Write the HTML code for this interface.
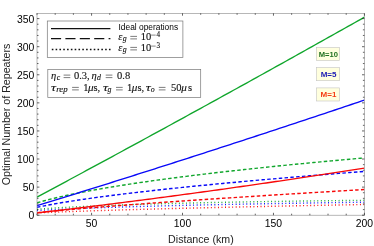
<!DOCTYPE html>
<html><head><meta charset="utf-8"><style>
html,body{margin:0;padding:0;background:#fff;}
svg{display:block;will-change:transform;opacity:0.999}
.t{font-family:"Liberation Sans",sans-serif;font-size:10.4px;fill:#000}
.a{font-family:"Liberation Sans",sans-serif;font-size:11px;fill:#222}
.m{font-family:"Liberation Serif",serif;font-size:10.5px;fill:#111;stroke:#111;stroke-width:0.12px}
.i{font-style:italic}
.l{font-family:"Liberation Sans",sans-serif;font-size:8.6px;fill:#000}
.b{font-family:"Liberation Sans",sans-serif;font-size:8px;font-weight:bold}
</style></head><body>
<svg width="374" height="246" viewBox="0 0 374 246">
<rect width="374" height="246" fill="#fff"/>
<clipPath id="c"><rect x="37.0" y="13.3" width="327.4" height="201.89999999999998"/></clipPath>
<g clip-path="url(#c)">
<polyline points="37.00,213.00 40.64,212.82 44.28,212.65 47.91,212.49 51.55,212.33 55.19,212.18 58.83,212.03 62.46,211.88 66.10,211.74 69.74,211.61 73.38,211.47 77.02,211.34 80.65,211.21 84.29,211.09 87.93,210.96 91.57,210.84 95.20,210.72 98.84,210.61 102.48,210.49 106.12,210.38 109.76,210.27 113.39,210.16 117.03,210.05 120.67,209.94 124.31,209.84 127.94,209.73 131.58,209.63 135.22,209.53 138.86,209.43 142.50,209.33 146.13,209.23 149.77,209.13 153.41,209.04 157.05,208.94 160.68,208.85 164.32,208.75 167.96,208.66 171.60,208.57 175.24,208.48 178.87,208.39 182.51,208.30 186.15,208.21 189.79,208.12 193.42,208.04 197.06,207.95 200.70,207.86 204.34,207.78 207.98,207.70 211.61,207.61 215.25,207.53 218.89,207.45 222.53,207.36 226.16,207.28 229.80,207.20 233.44,207.12 237.08,207.04 240.72,206.96 244.35,206.88 247.99,206.80 251.63,206.73 255.27,206.65 258.90,206.57 262.54,206.49 266.18,206.42 269.82,206.34 273.46,206.27 277.09,206.19 280.73,206.12 284.37,206.04 288.01,205.97 291.64,205.90 295.28,205.82 298.92,205.75 302.56,205.68 306.20,205.61 309.83,205.54 313.47,205.46 317.11,205.39 320.75,205.32 324.38,205.25 328.02,205.18 331.66,205.11 335.30,205.04 338.94,204.98 342.57,204.91 346.21,204.84 349.85,204.77 353.49,204.70 357.12,204.63 360.76,204.57 364.40,204.50" stroke="#f80808" stroke-width="1.4" fill="none" stroke-dasharray="0.95 2.6"/>
<polyline points="37.00,210.60 40.64,210.37 44.28,210.16 47.91,209.96 51.55,209.76 55.19,209.58 58.83,209.40 62.46,209.22 66.10,209.06 69.74,208.90 73.38,208.74 77.02,208.59 80.65,208.44 84.29,208.30 87.93,208.16 91.57,208.02 95.20,207.89 98.84,207.76 102.48,207.64 106.12,207.51 109.76,207.39 113.39,207.27 117.03,207.16 120.67,207.05 124.31,206.93 127.94,206.83 131.58,206.72 135.22,206.61 138.86,206.51 142.50,206.41 146.13,206.31 149.77,206.21 153.41,206.12 157.05,206.02 160.68,205.93 164.32,205.84 167.96,205.75 171.60,205.66 175.24,205.57 178.87,205.49 182.51,205.40 186.15,205.32 189.79,205.23 193.42,205.15 197.06,205.07 200.70,204.99 204.34,204.91 207.98,204.84 211.61,204.76 215.25,204.68 218.89,204.61 222.53,204.54 226.16,204.46 229.80,204.39 233.44,204.32 237.08,204.25 240.72,204.18 244.35,204.11 247.99,204.04 251.63,203.98 255.27,203.91 258.90,203.85 262.54,203.78 266.18,203.72 269.82,203.65 273.46,203.59 277.09,203.53 280.73,203.47 284.37,203.40 288.01,203.34 291.64,203.28 295.28,203.23 298.92,203.17 302.56,203.11 306.20,203.05 309.83,202.99 313.47,202.94 317.11,202.88 320.75,202.83 324.38,202.77 328.02,202.72 331.66,202.66 335.30,202.61 338.94,202.56 342.57,202.51 346.21,202.45 349.85,202.40 353.49,202.35 357.12,202.30 360.76,202.25 364.40,202.20" stroke="#0808f8" stroke-width="1.4" fill="none" stroke-dasharray="0.95 2.6"/>
<polyline points="37.00,209.30 40.64,209.01 44.28,208.74 47.91,208.48 51.55,208.23 55.19,208.00 58.83,207.78 62.46,207.56 66.10,207.36 69.74,207.16 73.38,206.97 77.02,206.79 80.65,206.61 84.29,206.44 87.93,206.28 91.57,206.11 95.20,205.96 98.84,205.81 102.48,205.66 106.12,205.52 109.76,205.38 113.39,205.24 117.03,205.11 120.67,204.98 124.31,204.86 127.94,204.74 131.58,204.62 135.22,204.50 138.86,204.39 142.50,204.28 146.13,204.17 149.77,204.06 153.41,203.96 157.05,203.86 160.68,203.76 164.32,203.66 167.96,203.56 171.60,203.47 175.24,203.38 178.87,203.29 182.51,203.20 186.15,203.11 189.79,203.03 193.42,202.95 197.06,202.86 200.70,202.78 204.34,202.71 207.98,202.63 211.61,202.55 215.25,202.48 218.89,202.40 222.53,202.33 226.16,202.26 229.80,202.19 233.44,202.13 237.08,202.06 240.72,201.99 244.35,201.93 247.99,201.86 251.63,201.80 255.27,201.74 258.90,201.68 262.54,201.62 266.18,201.56 269.82,201.51 273.46,201.45 277.09,201.39 280.73,201.34 284.37,201.29 288.01,201.23 291.64,201.18 295.28,201.13 298.92,201.08 302.56,201.03 306.20,200.98 309.83,200.93 313.47,200.89 317.11,200.84 320.75,200.79 324.38,200.75 328.02,200.70 331.66,200.66 335.30,200.62 338.94,200.58 342.57,200.53 346.21,200.49 349.85,200.45 353.49,200.41 357.12,200.38 360.76,200.34 364.40,200.30" stroke="#10a62c" stroke-width="1.4" fill="none" stroke-dasharray="0.95 2.6"/>
<polyline points="37.00,212.80 40.64,212.41 44.28,212.03 47.91,211.67 51.55,211.31 55.19,210.96 58.83,210.61 62.46,210.28 66.10,209.94 69.74,209.62 73.38,209.30 77.02,208.98 80.65,208.67 84.29,208.36 87.93,208.06 91.57,207.76 95.20,207.46 98.84,207.17 102.48,206.88 106.12,206.59 109.76,206.30 113.39,206.02 117.03,205.74 120.67,205.46 124.31,205.18 127.94,204.91 131.58,204.64 135.22,204.37 138.86,204.10 142.50,203.83 146.13,203.57 149.77,203.30 153.41,203.04 157.05,202.78 160.68,202.52 164.32,202.27 167.96,202.01 171.60,201.76 175.24,201.50 178.87,201.25 182.51,201.00 186.15,200.75 189.79,200.50 193.42,200.25 197.06,200.01 200.70,199.76 204.34,199.52 207.98,199.28 211.61,199.03 215.25,198.79 218.89,198.55 222.53,198.31 226.16,198.07 229.80,197.84 233.44,197.60 237.08,197.36 240.72,197.13 244.35,196.89 247.99,196.66 251.63,196.43 255.27,196.19 258.90,195.96 262.54,195.73 266.18,195.50 269.82,195.27 273.46,195.04 277.09,194.81 280.73,194.59 284.37,194.36 288.01,194.13 291.64,193.91 295.28,193.68 298.92,193.46 302.56,193.23 306.20,193.01 309.83,192.79 313.47,192.56 317.11,192.34 320.75,192.12 324.38,191.90 328.02,191.68 331.66,191.46 335.30,191.24 338.94,191.02 342.57,190.80 346.21,190.58 349.85,190.37 353.49,190.15 357.12,189.93 360.76,189.72 364.40,189.50" stroke="#f80808" stroke-width="1.4" fill="none" stroke-dasharray="3.5 2.3"/>
<polyline points="37.00,207.30 40.64,206.55 44.28,205.82 47.91,205.13 51.55,204.46 55.19,203.81 58.83,203.17 62.46,202.56 66.10,201.97 69.74,201.38 73.38,200.82 77.02,200.26 80.65,199.72 84.29,199.19 87.93,198.66 91.57,198.15 95.20,197.65 98.84,197.15 102.48,196.67 106.12,196.19 109.76,195.71 113.39,195.25 117.03,194.79 120.67,194.34 124.31,193.89 127.94,193.45 131.58,193.02 135.22,192.59 138.86,192.16 142.50,191.74 146.13,191.33 149.77,190.92 153.41,190.51 157.05,190.11 160.68,189.71 164.32,189.32 167.96,188.93 171.60,188.54 175.24,188.16 178.87,187.78 182.51,187.40 186.15,187.03 189.79,186.66 193.42,186.29 197.06,185.92 200.70,185.56 204.34,185.20 207.98,184.85 211.61,184.50 215.25,184.14 218.89,183.80 222.53,183.45 226.16,183.11 229.80,182.77 233.44,182.43 237.08,182.09 240.72,181.76 244.35,181.42 247.99,181.09 251.63,180.76 255.27,180.44 258.90,180.11 262.54,179.79 266.18,179.47 269.82,179.15 273.46,178.83 277.09,178.52 280.73,178.21 284.37,177.89 288.01,177.58 291.64,177.27 295.28,176.97 298.92,176.66 302.56,176.36 306.20,176.06 309.83,175.75 313.47,175.45 317.11,175.16 320.75,174.86 324.38,174.56 328.02,174.27 331.66,173.98 335.30,173.69 338.94,173.40 342.57,173.11 346.21,172.82 349.85,172.53 353.49,172.25 357.12,171.96 360.76,171.68 364.40,171.40" stroke="#0808f8" stroke-width="1.4" fill="none" stroke-dasharray="3.5 2.3"/>
<polyline points="37.00,202.80 40.64,201.76 44.28,200.76 47.91,199.81 51.55,198.89 55.19,198.01 58.83,197.15 62.46,196.33 66.10,195.52 69.74,194.75 73.38,193.99 77.02,193.25 80.65,192.53 84.29,191.83 87.93,191.14 91.57,190.47 95.20,189.81 98.84,189.16 102.48,188.53 106.12,187.91 109.76,187.29 113.39,186.69 117.03,186.10 120.67,185.52 124.31,184.95 127.94,184.39 131.58,183.84 135.22,183.29 138.86,182.75 142.50,182.22 146.13,181.70 149.77,181.18 153.41,180.67 157.05,180.17 160.68,179.67 164.32,179.18 167.96,178.69 171.60,178.21 175.24,177.73 178.87,177.26 182.51,176.80 186.15,176.34 189.79,175.89 193.42,175.43 197.06,174.99 200.70,174.55 204.34,174.11 207.98,173.68 211.61,173.25 215.25,172.82 218.89,172.40 222.53,171.98 226.16,171.57 229.80,171.16 233.44,170.75 237.08,170.35 240.72,169.95 244.35,169.55 247.99,169.16 251.63,168.77 255.27,168.38 258.90,167.99 262.54,167.61 266.18,167.23 269.82,166.86 273.46,166.48 277.09,166.11 280.73,165.74 284.37,165.38 288.01,165.02 291.64,164.65 295.28,164.30 298.92,163.94 302.56,163.59 306.20,163.24 309.83,162.89 313.47,162.54 317.11,162.20 320.75,161.85 324.38,161.51 328.02,161.18 331.66,160.84 335.30,160.51 338.94,160.17 342.57,159.84 346.21,159.51 349.85,159.19 353.49,158.86 357.12,158.54 360.76,158.22 364.40,157.90" stroke="#10a62c" stroke-width="1.4" fill="none" stroke-dasharray="3.5 2.3"/>
<polyline points="37.00,212.91 40.27,212.53 43.55,212.15 46.82,211.77 50.10,211.38 53.37,211.00 56.64,210.61 59.92,210.23 63.19,209.84 66.47,209.45 69.74,209.06 73.01,208.66 76.29,208.27 79.56,207.87 82.84,207.47 86.11,207.08 89.38,206.68 92.66,206.27 95.93,205.87 99.21,205.47 102.48,205.06 105.75,204.65 109.03,204.24 112.30,203.83 115.58,203.42 118.85,203.01 122.12,202.59 125.40,202.18 128.67,201.76 131.95,201.34 135.22,200.92 138.49,200.50 141.77,200.08 145.04,199.65 148.32,199.23 151.59,198.80 154.86,198.37 158.14,197.94 161.41,197.51 164.69,197.08 167.96,196.64 171.23,196.21 174.51,195.77 177.78,195.33 181.06,194.89 184.33,194.45 187.60,194.01 190.88,193.56 194.15,193.12 197.43,192.67 200.70,192.22 203.97,191.77 207.25,191.32 210.52,190.87 213.80,190.42 217.07,189.96 220.34,189.51 223.62,189.05 226.89,188.59 230.17,188.13 233.44,187.67 236.71,187.20 239.99,186.74 243.26,186.27 246.54,185.80 249.81,185.34 253.08,184.86 256.36,184.39 259.63,183.92 262.91,183.45 266.18,182.97 269.45,182.49 272.73,182.01 276.00,181.53 279.28,181.05 282.55,180.57 285.82,180.09 289.10,179.60 292.37,179.11 295.65,178.63 298.92,178.14 302.19,177.65 305.47,177.15 308.74,176.66 312.02,176.16 315.29,175.67 318.56,175.17 321.84,174.67 325.11,174.17 328.39,173.67 331.66,173.17 334.93,172.66 338.21,172.16 341.48,171.65 344.76,171.14 348.03,170.63 351.30,170.12 354.58,169.61 357.85,169.09 361.13,168.58 364.40,168.06" stroke="#f80808" stroke-width="1.35" fill="none"/>
<polyline points="37.00,205.70 40.27,204.69 43.55,203.68 46.82,202.67 50.10,201.66 53.37,200.64 56.64,199.63 59.92,198.61 63.19,197.60 66.47,196.58 69.74,195.56 73.01,194.54 76.29,193.52 79.56,192.50 82.84,191.48 86.11,190.46 89.38,189.44 92.66,188.41 95.93,187.39 99.21,186.36 102.48,185.33 105.75,184.30 109.03,183.27 112.30,182.24 115.58,181.21 118.85,180.18 122.12,179.15 125.40,178.11 128.67,177.08 131.95,176.04 135.22,175.01 138.49,173.97 141.77,172.93 145.04,171.89 148.32,170.85 151.59,169.81 154.86,168.77 158.14,167.72 161.41,166.68 164.69,165.63 167.96,164.59 171.23,163.54 174.51,162.49 177.78,161.44 181.06,160.39 184.33,159.34 187.60,158.29 190.88,157.24 194.15,156.18 197.43,155.13 200.70,154.07 203.97,153.02 207.25,151.96 210.52,150.90 213.80,149.84 217.07,148.78 220.34,147.72 223.62,146.66 226.89,145.60 230.17,144.53 233.44,143.47 236.71,142.40 239.99,141.33 243.26,140.27 246.54,139.20 249.81,138.13 253.08,137.06 256.36,135.99 259.63,134.91 262.91,133.84 266.18,132.77 269.45,131.69 272.73,130.61 276.00,129.54 279.28,128.46 282.55,127.38 285.82,126.30 289.10,125.22 292.37,124.14 295.65,123.06 298.92,121.97 302.19,120.89 305.47,119.80 308.74,118.71 312.02,117.63 315.29,116.54 318.56,115.45 321.84,114.36 325.11,113.27 328.39,112.18 331.66,111.08 334.93,109.99 338.21,108.89 341.48,107.80 344.76,106.70 348.03,105.60 351.30,104.50 354.58,103.40 357.85,102.30 361.13,101.20 364.40,100.10" stroke="#0808f8" stroke-width="1.35" fill="none"/>
<polyline points="37.00,197.10 40.27,195.35 43.55,193.59 46.82,191.84 50.10,190.08 53.37,188.33 56.64,186.57 59.92,184.81 63.19,183.05 66.47,181.29 69.74,179.53 73.01,177.77 76.29,176.00 79.56,174.24 82.84,172.48 86.11,170.71 89.38,168.94 92.66,167.17 95.93,165.41 99.21,163.64 102.48,161.87 105.75,160.09 109.03,158.32 112.30,156.55 115.58,154.77 118.85,153.00 122.12,151.22 125.40,149.45 128.67,147.67 131.95,145.89 135.22,144.11 138.49,142.33 141.77,140.55 145.04,138.76 148.32,136.98 151.59,135.20 154.86,133.41 158.14,131.62 161.41,129.84 164.69,128.05 167.96,126.26 171.23,124.47 174.51,122.68 177.78,120.89 181.06,119.09 184.33,117.30 187.60,115.50 190.88,113.71 194.15,111.91 197.43,110.11 200.70,108.32 203.97,106.52 207.25,104.72 210.52,102.91 213.80,101.11 217.07,99.31 220.34,97.50 223.62,95.70 226.89,93.89 230.17,92.09 233.44,90.28 236.71,88.47 239.99,86.66 243.26,84.85 246.54,83.04 249.81,81.23 253.08,79.41 256.36,77.60 259.63,75.78 262.91,73.97 266.18,72.15 269.45,70.33 272.73,68.51 276.00,66.69 279.28,64.87 282.55,63.05 285.82,61.23 289.10,59.40 292.37,57.58 295.65,55.75 298.92,53.93 302.19,52.10 305.47,50.27 308.74,48.44 312.02,46.61 315.29,44.78 318.56,42.95 321.84,41.11 325.11,39.28 328.39,37.45 331.66,35.61 334.93,33.77 338.21,31.94 341.48,30.10 344.76,28.26 348.03,26.42 351.30,24.58 354.58,22.73 357.85,20.89 361.13,19.05 364.40,17.20" stroke="#10a62c" stroke-width="1.35" fill="none"/>
</g>
<rect x="37.0" y="13.3" width="327.4" height="201.89999999999998" fill="none" stroke="#888" stroke-width="0.6"/>
<path d="M37.00,215.2 v-1.5 M37.00,13.3 v1.5 M55.19,215.2 v-1.5 M55.19,13.3 v1.5 M73.38,215.2 v-1.5 M73.38,13.3 v1.5 M91.57,215.2 v-2.4 M91.57,13.3 v2.4 M109.76,215.2 v-1.5 M109.76,13.3 v1.5 M127.94,215.2 v-1.5 M127.94,13.3 v1.5 M146.13,215.2 v-1.5 M146.13,13.3 v1.5 M164.32,215.2 v-1.5 M164.32,13.3 v1.5 M182.51,215.2 v-2.4 M182.51,13.3 v2.4 M200.70,215.2 v-1.5 M200.70,13.3 v1.5 M218.89,215.2 v-1.5 M218.89,13.3 v1.5 M237.08,215.2 v-1.5 M237.08,13.3 v1.5 M255.27,215.2 v-1.5 M255.27,13.3 v1.5 M273.46,215.2 v-2.4 M273.46,13.3 v2.4 M291.64,215.2 v-1.5 M291.64,13.3 v1.5 M309.83,215.2 v-1.5 M309.83,13.3 v1.5 M328.02,215.2 v-1.5 M328.02,13.3 v1.5 M346.21,215.2 v-1.5 M346.21,13.3 v1.5 M364.40,215.2 v-2.4 M364.40,13.3 v2.4 M37.0,215.20 h2.4 M364.4,215.20 h-2.4 M37.0,209.58 h1.5 M364.4,209.58 h-1.5 M37.0,203.97 h1.5 M364.4,203.97 h-1.5 M37.0,198.35 h1.5 M364.4,198.35 h-1.5 M37.0,192.73 h1.5 M364.4,192.73 h-1.5 M37.0,187.11 h2.4 M364.4,187.11 h-2.4 M37.0,181.50 h1.5 M364.4,181.50 h-1.5 M37.0,175.88 h1.5 M364.4,175.88 h-1.5 M37.0,170.26 h1.5 M364.4,170.26 h-1.5 M37.0,164.65 h1.5 M364.4,164.65 h-1.5 M37.0,159.03 h2.4 M364.4,159.03 h-2.4 M37.0,153.41 h1.5 M364.4,153.41 h-1.5 M37.0,147.80 h1.5 M364.4,147.80 h-1.5 M37.0,142.18 h1.5 M364.4,142.18 h-1.5 M37.0,136.56 h1.5 M364.4,136.56 h-1.5 M37.0,130.94 h2.4 M364.4,130.94 h-2.4 M37.0,125.33 h1.5 M364.4,125.33 h-1.5 M37.0,119.71 h1.5 M364.4,119.71 h-1.5 M37.0,114.09 h1.5 M364.4,114.09 h-1.5 M37.0,108.48 h1.5 M364.4,108.48 h-1.5 M37.0,102.86 h2.4 M364.4,102.86 h-2.4 M37.0,97.24 h1.5 M364.4,97.24 h-1.5 M37.0,91.63 h1.5 M364.4,91.63 h-1.5 M37.0,86.01 h1.5 M364.4,86.01 h-1.5 M37.0,80.39 h1.5 M364.4,80.39 h-1.5 M37.0,74.78 h2.4 M364.4,74.78 h-2.4 M37.0,69.16 h1.5 M364.4,69.16 h-1.5 M37.0,63.54 h1.5 M364.4,63.54 h-1.5 M37.0,57.92 h1.5 M364.4,57.92 h-1.5 M37.0,52.31 h1.5 M364.4,52.31 h-1.5 M37.0,46.69 h2.4 M364.4,46.69 h-2.4 M37.0,41.07 h1.5 M364.4,41.07 h-1.5 M37.0,35.46 h1.5 M364.4,35.46 h-1.5 M37.0,29.84 h1.5 M364.4,29.84 h-1.5 M37.0,24.22 h1.5 M364.4,24.22 h-1.5 M37.0,18.60 h2.4 M364.4,18.60 h-2.4" stroke="#222" stroke-width="0.7" fill="none"/>
<text x="34.3" y="219.20" text-anchor="end" class="t">0</text><text x="34.3" y="191.11" text-anchor="end" class="t">50</text><text x="34.3" y="163.03" text-anchor="end" class="t">100</text><text x="34.3" y="134.94" text-anchor="end" class="t">150</text><text x="34.3" y="106.86" text-anchor="end" class="t">200</text><text x="34.3" y="78.78" text-anchor="end" class="t">250</text><text x="34.3" y="50.69" text-anchor="end" class="t">300</text><text x="34.3" y="22.60" text-anchor="end" class="t">350</text>
<text x="91.57" y="226.7" text-anchor="middle" class="t">50</text><text x="182.51" y="226.7" text-anchor="middle" class="t">100</text><text x="273.46" y="226.7" text-anchor="middle" class="t">150</text><text x="364.40" y="226.7" text-anchor="middle" class="t">200</text>
<text x="200.9" y="243" text-anchor="middle" class="a" style="font-size:10.65px">Distance (km)</text>
<text transform="translate(10.3,185.2) rotate(-90)" class="a" style="font-size:10.7px" textLength="141.5">Optimal Number of Repeaters</text>
<!-- legend -->
<rect x="47.3" y="21" width="135.6" height="36.6" fill="#fff" stroke="#777" stroke-width="0.7"/>
<path d="M51,28.7 H110.4" stroke="#111" stroke-width="1.2"/>
<path d="M51,38.6 H110.4" stroke="#111" stroke-width="1.2" stroke-dasharray="10.1 4.3"/>
<path d="M51.8,49.5 H111" stroke="#111" stroke-width="1.3" stroke-dasharray="1.6 2.21"/>
<text x="118.5" y="30.0" class="l" textLength="59.6" lengthAdjust="spacingAndGlyphs">Ideal operations</text>
<text x="118.3" y="40.1" class="m i">ε</text><text x="122.8" y="41.300000000000004" class="m i" style="font-size:7.8px">g</text><path d="M130.3,36.40 h6.7 M130.3,38.90 h6.7" stroke="#111" stroke-width="0.55" fill="none"/><text x="140.8" y="40.1" class="m">10</text><path d="M151.1,35.10 h4.6" stroke="#111" stroke-width="0.5" fill="none"/><text x="156.6" y="36.800000000000004" class="m" style="font-size:7.2px">4</text>
<text x="118.3" y="51.1" class="m i">ε</text><text x="122.8" y="52.300000000000004" class="m i" style="font-size:7.8px">g</text><path d="M130.3,47.40 h6.7 M130.3,49.90 h6.7" stroke="#111" stroke-width="0.55" fill="none"/><text x="140.8" y="51.1" class="m">10</text><path d="M151.1,46.10 h4.6" stroke="#111" stroke-width="0.5" fill="none"/><text x="156.6" y="47.800000000000004" class="m" style="font-size:7.2px">3</text>
<!-- params -->
<rect x="47.8" y="69.4" width="152.9" height="28" fill="#fff" stroke="#777" stroke-width="0.7"/>
<text x="51.1" y="78.8" class="m i">η</text><text x="56.7" y="80.0" class="m i" style="font-size:7.8px">c</text><path d="M63.6,75.10 h6.7 M63.6,77.60 h6.7" stroke="#111" stroke-width="0.55" fill="none"/><text x="73.9" y="78.8" class="m">0.3,</text><text x="91.4" y="78.8" class="m i">η</text><text x="97.0" y="80.0" class="m i" style="font-size:7.8px">d</text><path d="M105.7,75.10 h6.7 M105.7,77.60 h6.7" stroke="#111" stroke-width="0.55" fill="none"/><text x="117.0" y="78.8" class="m">0.8</text>
<text x="50.9" y="91.1" class="m i" textLength="5.0" lengthAdjust="spacingAndGlyphs">τ</text><text x="56.2" y="92.3" class="m i" style="font-size:7.8px" textLength="11.4" lengthAdjust="spacingAndGlyphs">rep</text><path d="M72.1,87.40 h6.7 M72.1,89.90 h6.7" stroke="#111" stroke-width="0.55" fill="none"/><text x="83.3" y="91.1" class="m">1</text><text x="88.0" y="91.1" class="m i" textLength="5.6" lengthAdjust="spacingAndGlyphs">μ</text><text x="93.4" y="91.1" class="m">s,</text><text x="102.9" y="91.1" class="m i" textLength="5.0" lengthAdjust="spacingAndGlyphs">τ</text><text x="107.4" y="92.3" class="m i" style="font-size:7.8px">g</text><path d="M116,87.40 h6.7 M116,89.90 h6.7" stroke="#111" stroke-width="0.55" fill="none"/><text x="126.9" y="91.1" class="m">1</text><text x="131.8" y="91.1" class="m i" textLength="5.6" lengthAdjust="spacingAndGlyphs">μ</text><text x="137.4" y="91.1" class="m">s,</text><text x="145.7" y="91.1" class="m i" textLength="5.0" lengthAdjust="spacingAndGlyphs">τ</text><text x="150.8" y="92.3" class="m i" style="font-size:7.8px">o</text><path d="M158.8,87.40 h6.7 M158.8,89.90 h6.7" stroke="#111" stroke-width="0.55" fill="none"/><text x="171.0" y="91.1" class="m">50</text><text x="181.3" y="91.1" class="m i" textLength="5.6" lengthAdjust="spacingAndGlyphs">μ</text><text x="188.1" y="91.1" class="m">s</text>
<!-- M labels -->
<rect x="316.4" y="47.4" width="23.3" height="13.2" fill="#ffffde" stroke="#c4c4c4" stroke-width="0.6"/>
<text x="328.4" y="57.3" text-anchor="middle" class="b" fill="#1f701f" textLength="19.2" lengthAdjust="spacingAndGlyphs">M=10</text>
<rect x="316.4" y="67.6" width="23.3" height="13.1" fill="#ffffde" stroke="#c4c4c4" stroke-width="0.6"/>
<text x="328.6" y="77.3" text-anchor="middle" class="b" fill="#1a1ab4">M=5</text>
<rect x="316.4" y="87.9" width="23.3" height="13.1" fill="#ffffde" stroke="#c4c4c4" stroke-width="0.6"/>
<text x="328.5" y="97.3" text-anchor="middle" class="b" fill="#f53c14">M=1</text>
</svg>
</body></html>
